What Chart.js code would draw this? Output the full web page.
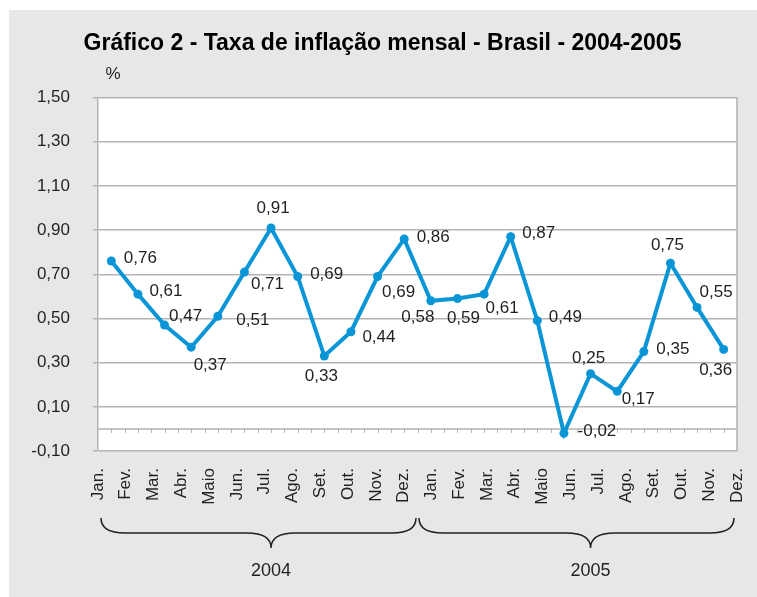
<!DOCTYPE html>
<html>
<head>
<meta charset="utf-8">
<script src="https://cdn.jsdelivr.net/npm/chart.js@4/dist/chart.umd.min.js"></script>
<style>
  body { margin: 0; background: #fff; }
  canvas { display: block; }
</style>
</head>
<body>
<canvas id="chart-line" width="757" height="597"></canvas>
<script>
/* =====================
  Data
===================== */

var months = ['Jan.', 'Fev.', 'Mar.', 'Abr.', 'Maio', 'Jun.', 'Jul.', 'Ago.', 'Set.', 'Out.', 'Nov.', 'Dez.',
              'Jan.', 'Fev.', 'Mar.', 'Abr.', 'Maio', 'Jun.', 'Jul.', 'Ago.', 'Set.', 'Out.', 'Nov.', 'Dez.'];
var years = ['2004', '2005'];
var inflation = [0.76, 0.61, 0.47, 0.37, 0.51, 0.71, 0.91, 0.69, 0.33, 0.44, 0.69, 0.86,
                 0.58, 0.59, 0.61, 0.87, 0.49, -0.02, 0.25, 0.17, 0.35, 0.75, 0.55, 0.36];
var yMin = -0.10;
var yMax = 1.50;
var yStep = 0.20;

// where each value label sits relative to its point (dx, dy)
var labelOffsets = [[29, -3], [28, -3], [21, -9], [19, 18], [35, 4], [23, 12], [2, -20], [29, -2],
                    [-3, 20], [28, 6], [21, 16], [29, -2], [-13, 17], [6, 20], [18, 14], [28, -3],
                    [28, -3], [33, -2], [-2, -15], [21, 8], [29, -2], [-3, -18], [19, -15], [-8, 21]];

var blue = '#0a96d6';
var gridGray = '#b3b3b3';
var textColor = '#231f20';
var font = 'Liberation Sans, Arial, sans-serif';

var fmt = function(v) {
  return v.toFixed(2).replace('.', ',');
}

var drawBrace = function(ctx, xL, xR, xc, top, mid, bot) {
  var r = 24;
  ctx.beginPath();
  ctx.moveTo(xL, top);
  ctx.quadraticCurveTo(xL, mid, xL + r, mid);
  ctx.lineTo(xc - r, mid);
  ctx.quadraticCurveTo(xc, mid, xc, bot);
  ctx.quadraticCurveTo(xc, mid, xc + r, mid);
  ctx.lineTo(xR - r, mid);
  ctx.quadraticCurveTo(xR, mid, xR, top);
  ctx.stroke();
}

var decorPlugin = {
  id: 'decor',
  beforeDraw: function(chart) {
    var ctx = chart.ctx;
    var a = chart.chartArea;
    ctx.save();
    ctx.fillStyle = '#e6e7e9';
    ctx.fillRect(9, 10, chart.width - 9, chart.height - 10);
    ctx.fillStyle = '#ffffff';
    ctx.fillRect(a.left, a.top, a.right - a.left, a.bottom - a.top);
    ctx.restore();
  },
  beforeDatasetsDraw: function(chart) {
    var ctx = chart.ctx;
    var a = chart.chartArea;
    var x = chart.scales.x;
    var y0 = chart.scales.y.getPixelForValue(0);
    ctx.save();
    ctx.strokeStyle = gridGray;
    ctx.lineWidth = 1.5;
    ctx.beginPath();
    ctx.moveTo(a.left, y0);
    ctx.lineTo(a.right, y0);
    // right border of plot
    ctx.moveTo(a.right, a.top);
    ctx.lineTo(a.right, a.bottom);
    ctx.stroke();
    // small ticks on the zero line
    ctx.lineWidth = 1;
    var half = (x.getPixelForValue(1) - x.getPixelForValue(0)) / 2;
    ctx.beginPath();
    for (var i = 0; i < months.length * 2 - 1; i++) {
      var px = Math.round(x.getPixelForValue(0) + i * half) + 0.5;
      ctx.moveTo(px, y0);
      ctx.lineTo(px, y0 + 4);
    }
    ctx.stroke();
    ctx.restore();
  },
  afterDatasetsDraw: function(chart) {
    var ctx = chart.ctx;
    var meta = chart.getDatasetMeta(0);
    ctx.save();
    ctx.font = '17px ' + font;
    ctx.fillStyle = textColor;
    ctx.textAlign = 'center';
    ctx.textBaseline = 'middle';
    meta.data.forEach(function(pt, i) {
      var off = labelOffsets[i];
      ctx.fillText(fmt(inflation[i]), pt.x + off[0], pt.y + off[1]);
    });
    ctx.restore();
  },
  afterDraw: function(chart) {
    var ctx = chart.ctx;
    var a = chart.chartArea;
    var x = chart.scales.x;
    var x2 = chart.scales.x2;
    ctx.save();
    ctx.fillStyle = textColor;
    ctx.font = '17px ' + font;
    ctx.textAlign = 'center';
    ctx.textBaseline = 'middle';
    ctx.fillText('%', 113, a.top - 23);
    // year braces, tip under July of each year
    ctx.strokeStyle = '#231f20';
    ctx.lineWidth = 1.5;
    var split = (x2.getPixelForTick(11) + x2.getPixelForTick(12)) / 2;
    var spans = [[x2.getPixelForTick(0) + 3, split - 1.5, x.getPixelForValue(6)],
                 [split + 1.5, x2.getPixelForTick(23) - 3, x.getPixelForValue(18)]];
    ctx.font = '18px ' + font;
    spans.forEach(function(s, i) {
      drawBrace(ctx, s[0], s[1], s[2], 518, 533, 548);
      ctx.fillText(years[i], s[2], 571);
    });
    ctx.restore();
  }
};

var ctx1 = document.getElementById('chart-line').getContext('2d');

var lineChart = new Chart(ctx1, {
  type: 'line',
  data: {
    labels: months,
    datasets: [{
      data: inflation,
      borderColor: blue,
      backgroundColor: blue,
      borderWidth: 4,
      pointRadius: 4.5,
      pointBorderWidth: 0,
      tension: 0,
      xAxisID: 'x',
      yAxisID: 'y'
    }]
  },
  options: {
    responsive: false,
    animation: false,
    layout: { padding: { top: 30, left: 28, right: 20, bottom: 86 } },
    plugins: {
      legend: { display: false },
      tooltip: { enabled: false },
      title: {
        display: true,
        text: 'Gráfico 2 - Taxa de inflação mensal - Brasil - 2004-2005',
        color: '#000',
        font: { family: font, size: 23, weight: 'bold', lineHeight: 1.2 },
        padding: { top: 0, bottom: 40 }
      }
    },
    scales: {
      x: {
        type: 'category',
        offset: true,
        display: false
      },
      x2: {
        type: 'category',
        labels: months,
        position: 'bottom',
        offset: false,
        grid: { display: false, drawTicks: false },
        border: { display: false },
        ticks: {
          autoSkip: false,
          minRotation: 90,
          maxRotation: 90,
          padding: 17,
          color: textColor,
          font: { family: font, size: 17 }
        },
        afterFit: function(scale) {
          scale.height = 60;
          scale.paddingLeft = 0;
          scale.paddingRight = 0;
        }
      },
      y: {
        min: yMin,
        max: yMax,
        grid: { color: gridGray, lineWidth: 1.5, tickLength: 5 },
        border: { color: gridGray, width: 1.5 },
        ticks: {
          stepSize: yStep,
          padding: 23,
          color: textColor,
          font: { family: font, size: 17 },
          callback: function(v) { return fmt(v); }
        },
        afterFit: function(scale) { scale.width = 70; }
      }
    }
  },
  plugins: [decorPlugin]
});
</script>
</body>
</html>
